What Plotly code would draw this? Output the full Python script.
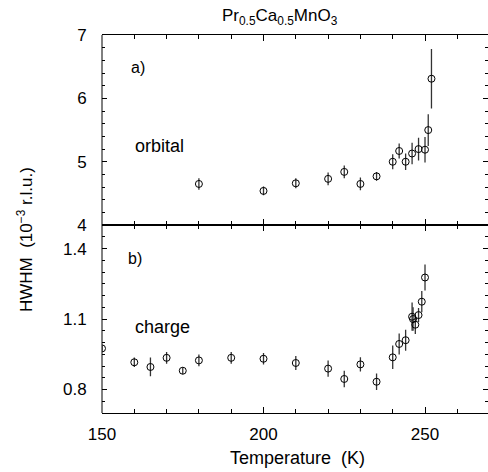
import plotly.graph_objects as go

# Orbital (panel a)
orb_T = [180, 200, 210, 220, 225, 230, 235, 240, 242, 244, 246, 248, 250, 251, 252]
orb_W = [4.65, 4.54, 4.66, 4.73, 4.84, 4.65, 4.77, 5.0, 5.17, 5.0, 5.13, 5.2, 5.19, 5.5, 6.31]
orb_E = [0.09, 0.07, 0.08, 0.1, 0.1, 0.1, 0.07, 0.12, 0.12, 0.13, 0.17, 0.18, 0.2, 0.25, 0.47]

# Charge (panel b)
chg_T = [150, 160, 165, 170, 175, 180, 190, 200, 210, 220, 225, 230, 235, 240, 242, 244, 246, 246.3, 247, 248, 249, 250]
chg_W = [0.975, 0.916, 0.896, 0.935, 0.88, 0.924, 0.935, 0.931, 0.913, 0.889, 0.845, 0.907, 0.833, 0.937,
         0.994, 1.01, 1.11, 1.10, 1.076, 1.117, 1.174, 1.277]
chg_E = [0.01, 0.02, 0.04, 0.025, 0.015, 0.025, 0.025, 0.025, 0.03, 0.035, 0.035, 0.03, 0.035, 0.05,
         0.045, 0.045, 0.06, 0.05, 0.04, 0.03, 0.045, 0.055]

FONT = "Liberation Sans, Arial, sans-serif"

fig = go.Figure()
fig.add_trace(go.Scatter(
    x=orb_T, y=orb_W, mode="markers", xaxis="x2", yaxis="y2",
    marker=dict(symbol="circle-open", size=7, color="black", line=dict(width=1)),
    error_y=dict(type="data", array=orb_E, color="#333", thickness=1.3, width=0),
    showlegend=False))
fig.add_trace(go.Scatter(
    x=chg_T, y=chg_W, mode="markers", xaxis="x", yaxis="y",
    marker=dict(symbol="circle-open", size=7, color="black", line=dict(width=1)),
    error_y=dict(type="data", array=chg_E, color="#333", thickness=1.3, width=0),
    showlegend=False))
# empty helper traces so the label-only overlay axes are drawn
fig.add_trace(go.Scatter(x=[], y=[], xaxis="x", yaxis="y3", showlegend=False, hoverinfo="skip"))
fig.add_trace(go.Scatter(x=[], y=[], xaxis="x2", yaxis="y4", showlegend=False, hoverinfo="skip"))

xcommon = dict(range=[150, 269.5], dtick=50, tick0=150, ticks="inside", ticklen=6,
               tickcolor="black", showline=True, linecolor="black", linewidth=1,
               mirror="ticks", showgrid=False, zeroline=False,
               minor=dict(dtick=10, ticks="inside", ticklen=4, tickcolor="black"))
# main y axes: inside ticks only
ycommon = dict(ticks="inside", ticklen=5, tickcolor="black", showline=False,
               mirror="ticks", showgrid=False, zeroline=False, showticklabels=False)
# label axes: transparent outside ticks push the labels away from the frame
ylab = dict(ticks="outside", ticklen=11, tickcolor="rgba(0,0,0,0)", showline=False,
            showgrid=False, zeroline=False, showticklabels=True, side="left",
            tickfont=dict(size=17))

B_RANGE = [0.7, 1.5]
A_RANGE = [4, 7]

fig.update_layout(
    width=488, height=472,
    margin=dict(l=102, r=0, t=35, b=59),
    paper_bgcolor="white", plot_bgcolor="white",
    font=dict(family=FONT, size=17, color="black"),
    xaxis=dict(**xcommon, anchor="y", showticklabels=True, ticklabelstandoff=6,
               tickfont=dict(size=17)),
    xaxis2=dict(**xcommon, anchor="y2", matches="x", showticklabels=False),
    yaxis=dict(**ycommon, domain=[0, 0.497], range=B_RANGE, tick0=0.8, dtick=0.3,
               minor=dict(dtick=0.05, tick0=0.7, ticks="inside", ticklen=3, tickcolor="black")),
    yaxis2=dict(**ycommon, domain=[0.497, 1], range=A_RANGE, dtick=1, anchor="x2",
                minor=dict(dtick=0.2, ticks="inside", ticklen=3, tickcolor="black")),
    yaxis3=dict(**ylab, overlaying="y", anchor="x", range=B_RANGE, tick0=0.8, dtick=0.3,
                tickformat=".1f"),
    yaxis4=dict(**ylab, overlaying="y2", anchor="x2", range=A_RANGE, dtick=1),
    shapes=[dict(type="line", xref="paper", yref="paper", x0=0, x1=0, y0=0, y1=1,
                 line=dict(color="black", width=1))],
    annotations=[
        dict(text="Pr<sub>0.5</sub>Ca<sub>0.5</sub>MnO<sub>3</sub>", xref="paper", yref="paper",
             x=(280 - 102) / 386, y=(413 - 17) / 378, xanchor="center", yanchor="middle",
             showarrow=False, font=dict(size=17)),
        dict(text="HWHM  (10<sup>−3</sup> r.l.u.)", xref="paper", yref="paper",
             x=(25 - 102) / 386, y=(413 - 240) / 378, textangle=-90,
             xanchor="center", yanchor="middle", showarrow=False, font=dict(size=17)),
        dict(text="Temperature  (K)", xref="paper", yref="paper",
             x=(297 - 102) / 386, y=(413 - 458) / 378, xanchor="center", yanchor="middle",
             showarrow=False, font=dict(size=18)),
        dict(text="a)", xref="paper", yref="paper", x=(138 - 102) / 386, y=(413 - 67) / 378,
             xanchor="center", yanchor="middle", showarrow=False, font=dict(size=16)),
        dict(text="orbital", xref="paper", yref="paper", x=(159 - 102) / 386, y=(413 - 146) / 378,
             xanchor="center", yanchor="middle", showarrow=False, font=dict(size=18)),
        dict(text="b)", xref="paper", yref="paper", x=(135 - 102) / 386, y=(413 - 258) / 378,
             xanchor="center", yanchor="middle", showarrow=False, font=dict(size=16)),
        dict(text="charge", xref="paper", yref="paper", x=(162 - 102) / 386, y=(413 - 327) / 378,
             xanchor="center", yanchor="middle", showarrow=False, font=dict(size=18)),
    ],
)

fig.write_html("out.html")
